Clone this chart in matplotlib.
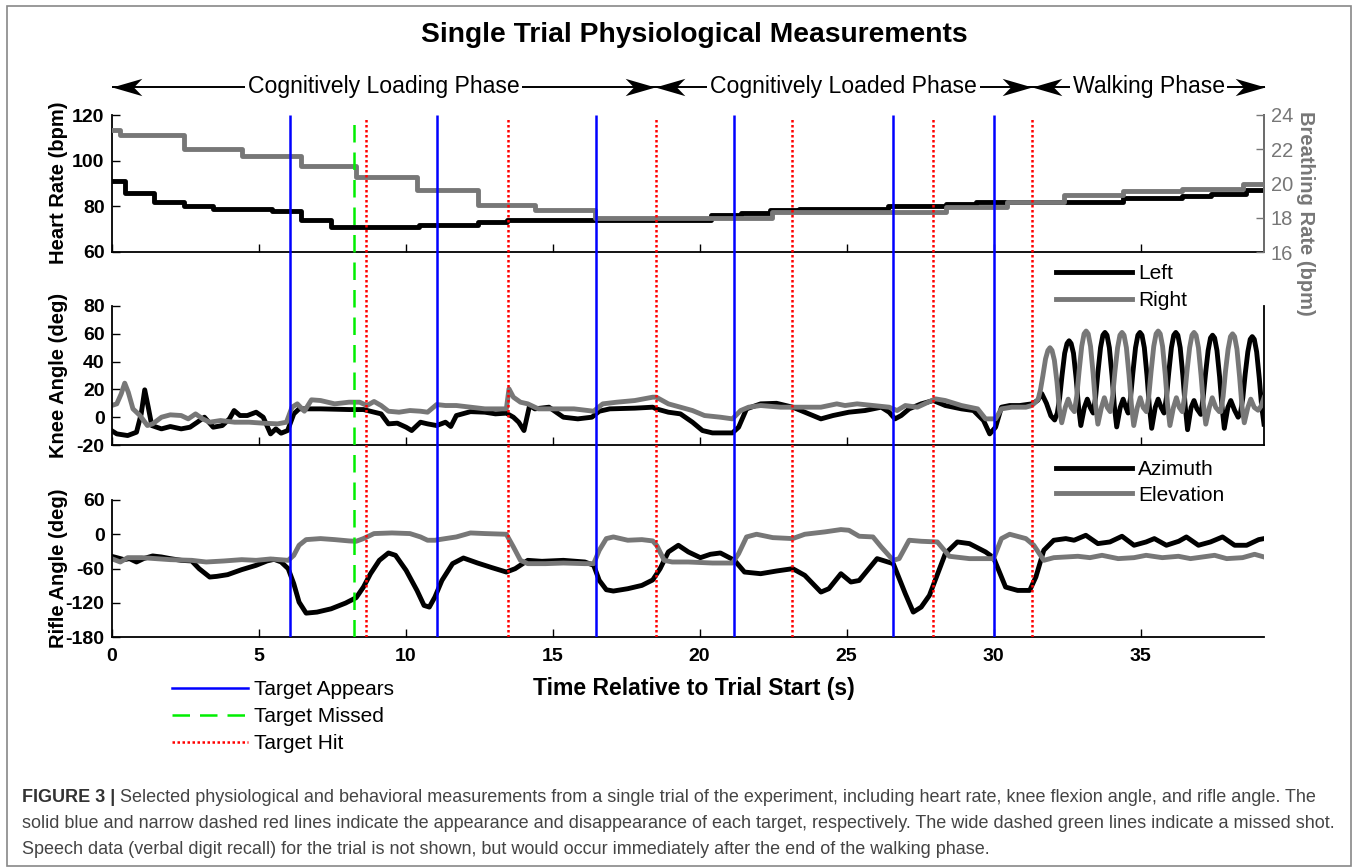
import matplotlib
matplotlib.use("Agg")
import matplotlib.pyplot as plt
from matplotlib.lines import Line2D
from matplotlib.patches import Rectangle
from matplotlib.path import Path

plt.rcParams["font.family"] = "Liberation Sans"
plt.rcParams["axes.unicode_minus"] = False

# ---------------- data ----------------
# heart rate (left axis, bpm) - step curve
hr_t = [0, 0.45, 1.45, 2.45, 3.45, 5.45, 6.45, 7.45, 10.45, 12.45, 13.45, 20.4, 21.4,
        22.4, 23.4, 26.4, 28.4, 29.4, 34.4, 36.4, 37.4, 38.6, 39.2]
hr_bpm = [91, 86, 82, 80, 79, 78, 74, 71, 72, 73, 74, 76, 77,
          78.5, 79, 80, 81, 82, 83.5, 84.5, 85.5, 87, 87]

# breathing rate (right axis, bpm) - step curve
br_t = [0, 0.3, 2.45, 4.45, 6.45, 8.3, 10.4, 12.45, 14.4, 16.45, 22.45, 28.4,
        30.45, 32.4, 34.4, 36.4, 38.5, 39.2]
br_rate = [23.1, 22.85, 22.0, 21.6, 21.0, 20.4, 19.6, 18.75, 18.45, 18.0, 18.35, 18.6,
           18.9, 19.3, 19.55, 19.7, 19.95, 19.95]

# knee flexion angle (deg)
knee_left_pts = [
    (0, -9.6), (0.18, -12), (0.55, -13.2), (0.85, -10.8), (1.01, 2.4), (1.13, 19.7),
    (1.25, 7.2), (1.37, -6), (1.7, -8.4), (2.0, -6.7), (2.37, -8.4), (2.67, -7.2),
    (2.92, -3.6), (3.16, 0), (3.46, -7.2), (3.77, -6), (4.01, -1.2), (4.17, 4.8),
    (4.37, 1.2), (4.62, 1.2), (4.92, 3.6), (5.16, 0), (5.41, -12), (5.59, -8.4),
    (5.77, -11.5), (5.99, -9.6), (6.2, 2.4), (6.38, 6), (6.62, 6), (7.11, 6),
    (8.08, 5.5), (8.57, 5.5), (8.93, 3.6), (9.17, 2.4), (9.42, -4.8), (9.72, -4.3),
    (10.02, -7.2), (10.21, -9.6), (10.51, -3.6), (10.75, -4.8), (11.06, -6),
    (11.36, -3.6), (11.54, -6.7), (11.73, 1.2), (12.21, 4), (12.7, 3.6), (13.06, 2.4),
    (13.43, 2.9), (13.67, 0), (13.85, -3.6), (14.03, -9.6), (14.22, 8.4), (14.4, 6),
    (14.88, 7.2), (15.37, 0), (15.86, -1.2), (16.34, 0), (16.59, 4.3), (16.95, 6),
    (17.8, 6.5), (18.41, 7.2), (18.53, 6), (18.94, 3.6), (19.35, 2.4), (19.76, -3.6),
    (20.1, -9.6), (20.44, -11.3), (21.12, -11.3), (21.33, -7.2), (21.6, 6), (22.08, 9.6),
    (22.62, 10), (23.17, 7.2), (23.58, 3.6), (24.13, -1.2), (24.54, 1.2), (25.08, 3.6),
    (25.63, 4.8), (26.18, 7.2), (26.45, 3.6), (26.65, -1.2), (26.86, 1.2), (27.13, 6),
    (27.54, 9.6), (27.95, 12), (28.36, 8.4), (28.91, 6), (29.32, 4.8), (29.66, -2.4),
    (29.87, -12), (30.07, -7.2), (30.27, 7.2), (30.55, 8.4), (30.89, 8.4), (31.3, 9.6),
    (31.5, 12), (31.64, 17), (31.8, 10), (31.95, 1), (32.08, -2),
    # walking
    (32.17, 3), (32.25, 14), (32.33, 30), (32.42, 46), (32.5, 53), (32.57, 55),
    (32.64, 53), (32.72, 46), (32.81, 28), (32.89, 8), (32.97, -6), (33.09, 7),
    (33.19, 13), (33.29, 7),
    (33.39, 3), (33.47, 14), (33.55, 32), (33.64, 50), (33.72, 59), (33.79, 61),
    (33.86, 59), (33.94, 50), (34.03, 30), (34.11, 8), (34.19, -7), (34.31, 7),
    (34.41, 13), (34.5, 7),
    (34.58, 3), (34.66, 14), (34.74, 32), (34.83, 50), (34.91, 59), (34.98, 61),
    (35.05, 59), (35.13, 50), (35.22, 30), (35.3, 8), (35.38, -8), (35.5, 7),
    (35.6, 13), (35.7, 7),
    (35.8, 3), (35.88, 14), (35.96, 32), (36.05, 50), (36.13, 59), (36.2, 61),
    (36.27, 59), (36.35, 50), (36.44, 30), (36.52, 8), (36.6, -9), (36.72, 7),
    (36.82, 12), (36.92, 6),
    (37.05, 2), (37.13, 14), (37.21, 31), (37.3, 48), (37.38, 57), (37.45, 59),
    (37.52, 57), (37.6, 48), (37.69, 29), (37.77, 8), (37.85, -8), (37.97, 7),
    (38.07, 12), (38.2, 5), (38.32, 0),
    (38.4, 3), (38.48, 14), (38.56, 31), (38.65, 47), (38.73, 56), (38.8, 58),
    (38.87, 56), (38.95, 47), (39.04, 28), (39.12, 8), (39.2, -5),
]
knee_right_pts = [
    (0, 8.4), (0.18, 9.6), (0.33, 16.8), (0.45, 24.5), (0.57, 18), (0.73, 6), (0.97, 1.2),
    (1.22, -6), (1.4, -4.8), (1.7, 0), (2.0, 1.7), (2.37, 1.2), (2.61, -1.2), (2.86, 2.4),
    (3.1, -1.2), (3.34, -3.6), (3.71, -2.4), (4.19, -3.6), (4.68, -3.6), (5.16, -4.3),
    (5.65, -4.8), (5.95, -3.6), (6.14, 7.2), (6.32, 9.6), (6.56, 4.3), (6.8, 12.5),
    (7.11, 12), (7.59, 9.6), (8.08, 10.8), (8.44, 10.8), (8.69, 8.4), (8.93, 11.3),
    (9.17, 8.4), (9.42, 4.3), (9.78, 3.6), (10.15, 4.8), (10.51, 4.3), (10.75, 3.6),
    (11.06, 9.1), (11.36, 8.4), (11.73, 8.4), (12.21, 7.2), (12.7, 6), (13.18, 6),
    (13.43, 6), (13.52, 20.4), (13.67, 14.4), (13.91, 10.8), (14.16, 9.6), (14.52, 6),
    (15.13, 6), (15.73, 6), (16.4, 4.3), (16.71, 9.6), (17.19, 10.8), (17.8, 12),
    (18.41, 14.4), (18.53, 14.4), (18.94, 9.6), (19.35, 7.2), (19.76, 4.8), (20.17, 1.2),
    (20.71, 0), (21.12, -1.2), (21.4, 4.8), (21.67, 7.2), (22.08, 8.4), (22.76, 7.2),
    (23.44, 7.2), (24.13, 7.2), (24.67, 9.6), (24.95, 8.4), (25.36, 9.6), (25.9, 8.4),
    (26.45, 7.2), (26.72, 4.8), (27.0, 8.4), (27.41, 7.2), (28.02, 13.2), (28.36, 12),
    (28.91, 8.4), (29.46, 6), (29.73, -1.2), (30.07, -1.2), (30.27, 6), (30.62, 7.2),
    (31.1, 7.2), (31.3, 8.4), (31.44, 11),
    # walking
    (31.52, 13), (31.6, 20), (31.68, 30), (31.77, 42), (31.85, 48), (31.92, 50),
    (31.99, 48), (32.07, 41), (32.16, 25), (32.24, 6), (32.32, -4), (32.44, 7),
    (32.54, 13), (32.64, 7),
    (32.75, 4), (32.83, 15), (32.91, 33), (33.0, 51), (33.08, 60), (33.15, 62),
    (33.22, 60), (33.3, 51), (33.39, 31), (33.47, 9), (33.55, -5), (33.67, 7),
    (33.77, 14), (33.87, 7),
    (33.97, 4), (34.05, 15), (34.13, 33), (34.22, 50), (34.3, 59), (34.37, 61),
    (34.44, 59), (34.52, 50), (34.61, 30), (34.69, 9), (34.77, -6), (34.89, 7),
    (34.99, 14), (35.09, 7),
    (35.2, 4), (35.28, 15), (35.36, 33), (35.45, 51), (35.53, 60), (35.6, 62),
    (35.67, 60), (35.75, 51), (35.84, 31), (35.92, 9), (36.0, -6), (36.12, 7),
    (36.22, 14), (36.32, 7),
    (36.42, 4), (36.5, 15), (36.58, 33), (36.67, 50), (36.75, 59), (36.82, 61),
    (36.89, 59), (36.97, 50), (37.06, 30), (37.14, 9), (37.22, -5), (37.34, 7),
    (37.44, 14), (37.56, 7), (37.68, 4),
    (37.73, 4), (37.81, 15), (37.89, 33), (37.98, 49), (38.06, 58), (38.13, 60),
    (38.2, 58), (38.28, 49), (38.37, 29), (38.45, 8), (38.53, -4), (38.65, 7),
    (38.75, 13), (38.87, 7), (39.0, 5), (39.1, 8), (39.2, 14),
]

# rifle angle (deg)
rifle_az_pts = [
    (0, -38.6), (0.18, -41), (0.43, -44.5), (0.61, -42.7), (0.85, -48.6), (1.09, -42.7),
    (1.4, -38), (1.7, -39.8), (2.0, -42.7), (2.37, -45.7), (2.73, -46.8), (2.98, -60.3),
    (3.34, -75), (3.58, -73.8), (3.95, -70.8), (4.43, -62), (4.92, -54.4), (5.29, -46.8),
    (5.53, -43.9), (5.77, -48.6), (6.01, -60.3), (6.2, -86.7), (6.38, -118.9),
    (6.62, -138.2), (6.99, -136.4), (7.47, -130.6), (7.96, -120.6), (8.32, -111.2),
    (8.57, -92.5), (8.81, -69.1), (9.11, -45.7), (9.42, -32.8), (9.66, -36.9),
    (10.02, -63.2), (10.39, -98.4), (10.63, -124.7), (10.81, -127.6), (11.0, -110),
    (11.24, -80.8), (11.6, -51.5), (11.97, -41.6), (12.45, -50.4), (12.94, -58.5),
    (13.43, -66.2), (13.73, -60.3), (14.16, -45.7), (14.64, -47.4), (15.37, -45.7),
    (16.1, -48.6), (16.4, -54.4), (16.59, -80.8), (16.83, -97.2), (17.07, -99.5),
    (17.56, -95.4), (18.04, -89.6), (18.41, -80), (18.66, -60.3), (18.94, -31),
    (19.28, -19.3), (19.62, -31), (20.03, -41), (20.37, -35.1), (20.71, -32.8),
    (21.19, -45.7), (21.53, -66.2), (22.08, -69.1), (22.62, -64.4), (23.17, -60.3),
    (23.58, -72), (24.13, -101.3), (24.4, -95.4), (24.81, -69.1), (25.15, -83.7),
    (25.43, -81), (26.04, -42.7), (26.59, -51.5), (27.0, -104.2), (27.27, -136.4),
    (27.54, -127.6), (27.82, -107.1), (28.36, -34), (28.77, -13.5), (29.18, -16.4),
    (29.73, -31), (30.0, -41), (30.41, -92.5), (30.82, -98.4), (31.23, -98.4),
    (31.44, -74.9), (31.71, -28.1), (32.05, -10.5), (32.46, -7.6), (32.74, -10.5),
    (33.14, -1.8), (33.55, -16.4), (33.96, -13.5), (34.37, -3.5), (34.78, -19.3),
    (35.19, -13.5), (35.47, -7.6), (35.88, -19.3), (36.3, -12.3), (36.56, -4.7),
    (36.97, -19.3), (37.38, -13.5), (37.79, -4.7), (38.2, -19.3), (38.61, -19.3),
    (39.02, -9.4), (39.2, -7.6),
]
rifle_el_pts = [
    (0, -42.7), (0.3, -48.6), (0.55, -41), (1.03, -41), (2.0, -44.5), (2.73, -45.7),
    (3.22, -48.6), (3.83, -46.8), (4.43, -44.5), (4.92, -45.7), (5.41, -43.3),
    (6.01, -45.7), (6.2, -36.9), (6.38, -19.3), (6.62, -9.4), (7.11, -7.6), (7.59, -9.4),
    (8.08, -11.7), (8.32, -12.3), (8.57, -7.6), (8.93, 1.2), (9.54, 2.3), (10.15, 1.2),
    (10.51, -4.7), (10.75, -10.5), (11.0, -10.5), (11.36, -7.6), (11.73, -4.7),
    (12.21, 2.3), (12.7, 1.2), (13.43, 0), (13.67, -22.2), (13.91, -45.7), (14.16, -51.5),
    (14.76, -51.5), (15.37, -50.4), (16.1, -51.5), (16.4, -51.5), (16.59, -28.1),
    (16.83, -7.6), (17.07, -4.7), (17.56, -10.5), (18.04, -9.4), (18.41, -11.7),
    (18.55, -20), (18.8, -45.7), (19.07, -48.6), (19.62, -48.6), (20.44, -50.4),
    (21.12, -50.4), (21.33, -34), (21.6, -4.7), (21.94, 0), (22.49, -5.9), (23.17, -7.6),
    (23.58, 0), (24.26, 4.1), (24.81, 8.2), (25.08, 7), (25.43, -3.5), (25.9, -4.7),
    (26.18, -22.2), (26.59, -45.7), (26.79, -42.7), (27.13, -10.5), (27.54, -12.3),
    (28.09, -13.5), (28.5, -38.6), (29.18, -42.7), (30.0, -42.7), (30.27, -7.6),
    (30.55, 0), (31.1, -7.6), (31.37, -19.3), (31.71, -45.7), (32.05, -41),
    (32.46, -39.8), (32.87, -38.6), (33.28, -41), (33.69, -36.9), (34.24, -42.7),
    (34.78, -41), (35.19, -36.9), (35.74, -41), (36.29, -38.6), (36.7, -42.7),
    (37.11, -39.8), (37.52, -36.9), (37.93, -42.7), (38.47, -41), (38.88, -35.1),
    (39.2, -39.8),
]

# shooting events (s)
target_appears = [6.08, 11.06, 16.48, 21.19, 26.58, 30.02]
target_missed = [8.25]
target_hit = [8.64, 13.5, 18.51, 23.15, 27.93, 31.31]

phase_names = ["Cognitively Loading Phase", "Cognitively Loaded Phase", "Walking Phase"]
phase_edges = [0, 18.5, 31.3, 39.25]

caption = [
    "Selected physiological and behavioral measurements from a single trial of the experiment, "
    "including heart rate, knee flexion angle, and rifle angle. The",
    "solid blue and narrow dashed red lines indicate the appearance and disappearance of each "
    "target, respectively. The wide dashed green lines indicate a missed shot.",
    "Speech data (verbal digit recall) for the trial is not shown, but would occur immediately "
    "after the end of the walking phase.",
]

# ---------------- layout ----------------
W, H = 1358, 868
GRAY = "#777777"
XMAX = 39.2
fig = plt.figure(figsize=(W / 100, H / 100), dpi=100)


def px_axes(left, top, right, bottom):
    return fig.add_axes([left / W, 1 - bottom / H, (right - left) / W, (bottom - top) / H])


def style(ax, spines):
    for s in ["left", "right", "top", "bottom"]:
        ax.spines[s].set_visible(s in spines)
        ax.spines[s].set_linewidth(1.3)
    ax.set_xlim(0, XMAX)
    ax.set_xticks(range(0, 40, 5))
    ax.tick_params(direction="in", length=6, width=1, labelsize=14, pad=5)
    for lab in ax.get_xticklabels() + ax.get_yticklabels():
        lab.set_fontweight("bold")


ax_hr = px_axes(111.5, 115, 1264, 252)
ax_knee = px_axes(111.5, 306, 1264, 445)
ax_rifle = px_axes(111.5, 500, 1264, 637)

leg_kw = dict(bbox_transform=fig.transFigure, frameon=False, fontsize=15,
              handlelength=3.65, handletextpad=0.3, borderpad=0, borderaxespad=0)

# heart rate + breathing
ax_hr.plot(hr_t, hr_bpm, color="black", lw=3.5, drawstyle="steps-post")
ax_hr.set_ylim(60, 120)
ax_hr.set_yticks([60, 80, 100, 120])
style(ax_hr, ["left", "bottom", "right"])
ax_hr.tick_params(labelbottom=False)

ax_br = ax_hr.twinx()
ax_br.plot(br_t, br_rate, color=GRAY, lw=3.5, drawstyle="steps-post")
ax_br.set_ylim(16, 24)
ax_br.set_yticks([16, 18, 20, 22, 24])
for s in ["left", "top", "bottom"]:
    ax_br.spines[s].set_visible(False)
ax_br.spines["right"].set_color(GRAY)
ax_br.spines["right"].set_linewidth(1.3)
ax_br.tick_params(direction="in", length=6, width=1, labelsize=14.5, pad=5,
                  colors=GRAY)

# knee
kl_t, kl_v = zip(*knee_left_pts)
kr_t, kr_v = zip(*knee_right_pts)
ax_knee.plot(kl_t, kl_v, color="black", lw=3.5, label="Left")
ax_knee.plot(kr_t, kr_v, color=GRAY, lw=3.5, label="Right")
ax_knee.set_ylim(-20, 80)
ax_knee.set_yticks(range(-20, 81, 20))
style(ax_knee, ["left", "bottom", "right"])
ax_knee.tick_params(labelbottom=False)
ax_knee.legend(loc="upper left", bbox_to_anchor=(1056 / W, 1 - 264 / H),
               labelspacing=0.38, **leg_kw)

# rifle
ra_t, ra_v = zip(*rifle_az_pts)
re_t, re_v = zip(*rifle_el_pts)
ax_rifle.plot(ra_t, ra_v, color="black", lw=3.5, label="Azimuth")
ax_rifle.plot(re_t, re_v, color=GRAY, lw=3.5, label="Elevation")
ax_rifle.set_ylim(-180, 60)
ax_rifle.set_yticks(range(-180, 61, 60))
style(ax_rifle, ["left", "bottom"])
ax_rifle.tick_params(axis="x", pad=8)
ax_rifle.legend(loc="upper left", bbox_to_anchor=(1056 / W, 1 - 460 / H),
                labelspacing=0.32, **leg_kw)

# event lines across all three panels
ax_ev = px_axes(111.5, 115, 1264, 637)
ax_ev.set_xlim(0, XMAX)
ax_ev.set_ylim(0, 1)
ax_ev.axis("off")
ax_ev.vlines(target_appears, 0, 1, colors="#0000ff", lw=1.8)
ax_ev.vlines(target_missed, 0, 0.988, colors="#00ee00", lw=1.8, linestyles=(0, (7, 4)))
ax_ev.vlines(target_hit, 0, 0.997, colors="#ff0000", lw=1.8, linestyles=(0, (1, 1)))

handles = [Line2D([], [], color="#0000ff", lw=1.8),
           Line2D([], [], color="#00ee00", lw=1.8, ls=(0, (7, 4))),
           Line2D([], [], color="#ff0000", lw=1.8, ls=(0, (1, 1)))]
fig.legend(handles, ["Target Appears", "Target Missed", "Target Hit"],
           loc="upper left", bbox_to_anchor=(172 / W, 1 - 680 / H),
           labelspacing=0.38, **leg_kw)

# axis labels
lab_kw = dict(fontsize=14.5, fontweight="bold", rotation=90, ha="center", va="center")
fig.text(58 / W, 1 - 183 / H, "Heart Rate (bpm)", **lab_kw)
fig.text(58 / W, 1 - 375 / H, "Knee Angle (deg)", **lab_kw)
fig.text(58 / W, 1 - 568 / H, "Rifle Angle (deg)", **lab_kw)
fig.text(1305 / W, 1 - 213 / H, "Breathing Rate (bpm)", fontsize=14.5, fontweight="bold",
         rotation=-90, ha="center", va="center", color=GRAY)
fig.text(694 / W, 1 - 688 / H, "Time Relative to Trial Start (s)", fontsize=16.6,
         fontweight="bold", ha="center", va="center")
fig.text(694 / W, 1 - 35 / H, "Single Trial Physiological Measurements", fontsize=20.3,
         fontweight="bold", ha="center", va="center")

# phase arrows above the top panel (stealth-like heads)
head_right = Path([(0, 0), (-1, 0.29), (-0.72, 0), (-1, -0.29), (0, 0)],
                  [Path.MOVETO, Path.LINETO, Path.LINETO, Path.LINETO, Path.CLOSEPOLY])
head_left = Path([(0, 0), (1, 0.29), (0.72, 0), (1, -0.29), (0, 0)],
                 [Path.MOVETO, Path.LINETO, Path.LINETO, Path.LINETO, Path.CLOSEPOLY])
arrow_y = (252 - 87) / 137
xtr = ax_hr.get_xaxis_transform()
for name, a, b in zip(phase_names, phase_edges[:-1], phase_edges[1:]):
    ax_hr.plot([a, b], [arrow_y, arrow_y], color="black", lw=1.4, transform=xtr,
               clip_on=False, solid_capstyle="butt")
    ax_hr.plot([a], [arrow_y], marker=head_left, ms=43, mew=0, color="black",
               transform=xtr, clip_on=False)
    ax_hr.plot([b], [arrow_y], marker=head_right, ms=43, mew=0, color="black",
               transform=xtr, clip_on=False)
    ax_hr.text((a + b) / 2, arrow_y, name, transform=xtr, ha="center", va="center",
               fontsize=16.6, clip_on=False, zorder=5,
               bbox=dict(boxstyle="square,pad=0.12", fc="white", ec="none"))

# caption
renderer = fig.canvas.get_renderer()
cap_y = [797, 823, 849]
head = fig.text(22 / W, 1 - cap_y[0] / H, "FIGURE 3 |", fontsize=13, fontweight="bold",
                color="#333333", va="center")
head_w = head.get_window_extent(renderer).width
fig.text((22 + head_w + 5) / W, 1 - cap_y[0] / H, caption[0], fontsize=13,
         color="#444444", va="center")
for line, y in zip(caption[1:], cap_y[1:]):
    fig.text(22 / W, 1 - y / H, line, fontsize=13, color="#444444", va="center")

# outer frame
fig.patches.append(Rectangle((7 / W, 2 / H), 1344 / W, 860 / H, transform=fig.transFigure,
                             fill=False, ec="#888888", lw=1.2))

fig.savefig("out.png", dpi=100)
